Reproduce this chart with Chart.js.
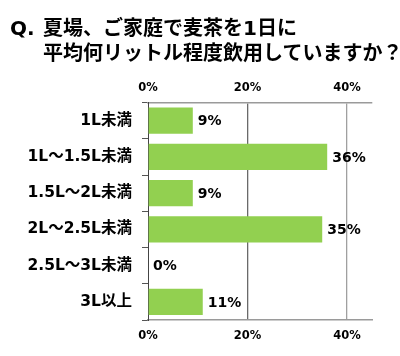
<!DOCTYPE html>
<html><head><meta charset="utf-8">
<script src="https://cdn.jsdelivr.net/npm/chart.js@4.4.1/dist/chart.umd.min.js"></script>
<style>
html,body{margin:0;padding:0;background:#fff;}
#wrap{position:relative;width:400px;height:356px;}
#title{position:absolute;left:10px;top:16px;font-family:"DejaVu Sans","Noto Sans CJK JP",sans-serif;font-weight:bold;font-size:20px;line-height:25px;color:#000;white-space:nowrap;}
#title .q{display:inline-block;width:33px;}
#title .l2{padding-left:33px;}
canvas{position:absolute;left:0;top:0;}
</style></head>
<body>
<div id="wrap">
<canvas id="c" width="400" height="356"></canvas>
<div id="title"><span class="q">Q.</span>夏場、ご家庭で麦茶を1日に<br><span class="l2">平均何リットル程度飲用していますか？</span></div>
</div>
<script>
const categories = ["1L未満", "1L～1.5L未満", "1.5L～2L未満", "2L～2.5L未満", "2.5L～3L未満", "3L以上"];
const values = [9, 36, 9, 35, 0, 11];
const tickValues = [0, 20, 40];
const axisMax = 45;

const FONT = '"DejaVu Sans","Noto Sans CJK JP",sans-serif';

const valueLabels = {
  id: 'valueLabels',
  afterDatasetsDraw(chart) {
    const ctx = chart.ctx;
    const meta = chart.getDatasetMeta(0);
    ctx.save();
    ctx.font = 'bold 14px ' + FONT;
    ctx.fillStyle = '#000';
    ctx.textAlign = 'left';
    ctx.textBaseline = 'middle';
    meta.data.forEach((bar, i) => {
      ctx.fillText(values[i] + '%', bar.x + 5, bar.y + 1);
    });
    ctx.restore();
  }
};

const xCommon = {
  type: 'linear',
  min: 0,
  max: axisMax,
  afterBuildTicks(scale) {
    scale.ticks = tickValues.map(v => ({ value: v }));
  },
  ticks: {
    callback: v => v + '%',
    color: '#000',
    font: { family: FONT, size: 11.5, weight: 'bold' },
    maxRotation: 0,
    autoSkip: false
  },
  border: { display: true, color: '#9a9a9a', width: 1.5 }
};

new Chart(document.getElementById('c'), {
  type: 'bar',
  data: {
    labels: categories,
    datasets: [{
      data: values,
      backgroundColor: '#92D050',
      borderWidth: 0,
      barPercentage: 0.72,
      categoryPercentage: 1.0,
      xAxisID: 'x'
    }]
  },
  options: {
    indexAxis: 'y',
    responsive: false,
    animation: false,
    layout: { padding: { left: 0, right: 28, top: 0, bottom: 0 } },
    plugins: { legend: { display: false }, tooltip: { enabled: false }, title: { display: false } },
    scales: {
      x: Object.assign({}, xCommon, {
        position: 'top',
        afterFit(s) { s.height = 102.5; },
        ticks: Object.assign({}, xCommon.ticks, { padding: 8 }),
        grid: {
          drawTicks: false,
          color: ctx => ctx.tick && ctx.tick.value === 20 ? '#6a6a6a' : (ctx.tick && ctx.tick.value === 40 ? '#a0a0a0' : 'rgba(0,0,0,0)'),
          lineWidth: 1.3
        }
      }),
      x2: Object.assign({}, xCommon, {
        position: 'bottom',
        afterFit(s) { s.height = 36; },
        ticks: Object.assign({}, xCommon.ticks, { padding: 9 }),
        grid: { drawTicks: false, drawOnChartArea: false }
      }),
      y: {
        type: 'category',
        afterFit(s) { s.width = 148; },
        ticks: {
          color: '#000',
          font: { family: FONT, size: 15.5, weight: 'bold' },
          padding: 10,
          autoSkip: false
        },
        grid: {
          offset: true,
          drawOnChartArea: false,
          drawTicks: true,
          tickLength: 6,
          color: '#555'
        },
        border: { display: true, color: '#444', width: 1 }
      }
    }
  },
  plugins: [valueLabels]
});
</script>
</body></html>
